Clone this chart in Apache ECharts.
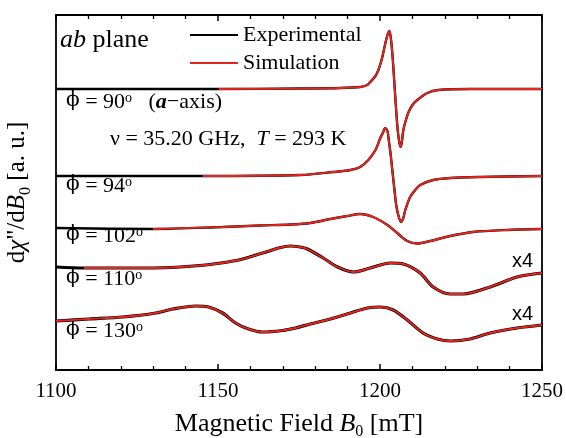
<!DOCTYPE html>
<html>
<head>
<meta charset="utf-8">
<script src="https://cdn.jsdelivr.net/npm/echarts@6/dist/echarts.min.js"></script>
<style>html,body{margin:0;padding:0;background:#fff;}#c{width:566px;height:438px;}</style>
</head>
<body>
<div id="c"></div>
<script>
// ---- Data (magnetic field in mT, derivative signal in arbitrary units) ----
const traceLabels = ['90', '94', '102', '110', '130'];
const offsets = [281, 194, 142, 102, 49];           // vertical offset of each spectrum
const simStart = [1150.2, 1145.3, 1129.9, 1108.6, 1100]; // simulation drawn from this field on

const B90 = [1100, 1150.2, 1175.5, 1187.8, 1193.9, 1196.1, 1197.0, 1198.6, 1199.5, 1200.4, 1201.0, 1201.6, 1202.3, 1202.9, 1203.3, 1203.8, 1204.4, 1205.0, 1205.6, 1206.3, 1206.7, 1207.2, 1208.0, 1208.7, 1210.0, 1211.5, 1214.6, 1218.0, 1227.8, 1250];
const S90 = [0, 0, 0.5, 1, 2, 4, 7, 13, 19, 28, 36, 45, 54, 58, 52, 36, 8, -22, -45, -58, -54, -41, -31, -24, -16, -11, -4, -1, 0, 0];

const B94 = [1100, 1145.3, 1175.5, 1185.6, 1190.9, 1193.9, 1196.4, 1198.6, 1200.1, 1201.0, 1201.6, 1202.3, 1202.7, 1203.2, 1203.8, 1204.4, 1205.0, 1205.8, 1206.6, 1207.2, 1207.8, 1209.3, 1210.9, 1212.4, 1216.4, 1221.7, 1230.9, 1250];
const S94 = [0, 0, 1, 4, 6, 9, 16, 26, 38, 44, 48, 45, 36, 24, 6, -12, -29, -41, -46, -42, -34, -21, -14, -9, -4, -2, -1, 0];

const B102 = [1100, 1129.9, 1151.4, 1163.1, 1172.4, 1178.5, 1184.7, 1189.9, 1193.9, 1197.9, 1202.3, 1205.3, 1208.4, 1211.5, 1215.5, 1221.7, 1228.7, 1239.2, 1250];
const S102 = [0, -1, 1, 2.5, 3.5, 5, 9, 12, 14, 11, 3, -5, -13, -15.5, -13, -8, -4, -2, -1];

const B110 = [1100, 1108.6, 1120.0, 1129.9, 1146.2, 1156.4, 1163.8, 1169.3, 1172.4, 1176.1, 1177.6, 1182.5, 1186.9, 1191.8, 1197.0, 1203.2, 1207.2, 1212.4, 1216.4, 1221.7, 1225.7, 1234.0, 1242.3, 1250];
const S110 = [1, 0, 0, 0, 3, 8, 15, 20.5, 22, 20.5, 19, 10, 1, -4, 0, 5, 4, -5, -19, -26, -26, -19, -9, -5];

const B130 = [1100, 1110.2, 1120.6, 1130.8, 1136.0, 1143.1, 1147.1, 1151.4, 1155.4, 1159.4, 1163.8, 1169.9, 1173.9, 1178.5, 1184.7, 1190.9, 1196.1, 1200.1, 1204.1, 1208.4, 1213.3, 1217.7, 1221.7, 1227.8, 1234.0, 1242.3, 1250];
const S130 = [0, 2, 4, 8, 12, 15, 14, 8, -2, -8, -11, -9.5, -7, -3, 2, 8, 13, 14, 11, 1, -12, -18, -20, -18, -12, -7, -4];

const xTicks = [1100, 1150, 1200, 1250];
const scaleNotes = ['x4', 'x4'];

// ---- Build ----
const fields = [B90, B94, B102, B110, B130];
const signals = [S90, S94, S102, S110, S130];
const serif = '"Liberation Serif", "Times New Roman", serif';
const RED = '#e8231c';
const expWidths = [2.4, 2.4, 2.4, 3.2, 3.2];

const series = [];
fields.forEach((B, i) => {
  const pts = B.map((b, j) => [b, offsets[i] + signals[i][j]]);
  series.push({
    name: 'Experimental', type: 'line', data: pts, showSymbol: false, symbol: 'none',
    smooth: 0.3, color: '#000', lineStyle: { color: '#000', width: expWidths[i] }, z: 2, silent: true
  });
  series.push({
    name: 'Simulation', type: 'line', data: pts.filter(p => p[0] >= simStart[i]), showSymbol: false, symbol: 'none',
    smooth: 0.3, color: RED, lineStyle: { color: RED, width: 1.9 }, z: 3, silent: true
  });
});

const richBase = {
  n: { fontFamily: serif, fontSize: 22, color: '#000', lineHeight: 26, verticalAlign: 'top' },
  phi: { fontFamily: '"DejaVu Serif", serif', fontSize: 20, color: '#000', lineHeight: 26, verticalAlign: 'top' },
  i: { fontFamily: serif, fontSize: 22, color: '#000', lineHeight: 26, verticalAlign: 'top', fontStyle: 'italic' },
  bi: { fontFamily: serif, fontSize: 22, color: '#000', lineHeight: 26, verticalAlign: 'top', fontStyle: 'italic', fontWeight: 'bold' },
  sup: { fontFamily: serif, fontSize: 14, color: '#000', lineHeight: 14, verticalAlign: 'top', padding: [0, 0, 0, 0] },
  sub: { fontFamily: serif, fontSize: 16, color: '#000', lineHeight: 16, verticalAlign: 'top', padding: [13, 0, 0, 0] }
};
function scaled(r, size) {
  const o = {};
  for (const k in r) {
    o[k] = Object.assign({}, r[k]);
    if (k === 'n' || k === 'i' || k === 'bi') { o[k].fontSize = size; o[k].lineHeight = size + 4; }
  }
  return o;
}
function label(x, y, text, size) {
  return {
    type: 'text', x: x, y: y, silent: true,
    style: { text: text, rich: scaled(richBase, size || 22), align: 'left', verticalAlign: 'middle', fill: '#000' }
  };
}
const PHI = '{phi|ϕ}';
const graphics = [
  label(60, 42, '{i|ab}{n| plane}', 26),
  label(66, 104, PHI + '{n| = ' + traceLabels[0] + '}{sup|o}{n|   (}{bi|a}{n|−axis)}', 22),
  label(110, 141, '{n|ν = 35.20 GHz,  }{i|T}{n| = 293 K}', 22),
  label(66, 188, PHI + '{n| = ' + traceLabels[1] + '}{sup|o}', 22),
  label(66, 238, PHI + '{n| = ' + traceLabels[2] + '}{sup|o}', 22),
  label(66, 281, PHI + '{n| = ' + traceLabels[3] + '}{sup|o}', 22),
  label(66, 333, PHI + '{n| = ' + traceLabels[4] + '}{sup|o}', 22),
  { type: 'text', x: 512, y: 261, silent: true, style: { text: scaleNotes[0], font: '20px "Liberation Sans", Arial, sans-serif', fill: '#000', verticalAlign: 'middle' } },
  { type: 'text', x: 512, y: 314, silent: true, style: { text: scaleNotes[1], font: '20px "Liberation Sans", Arial, sans-serif', fill: '#000', verticalAlign: 'middle' } }
];

const axisLine = { show: true, onZero: false, lineStyle: { color: '#000', width: 1.8 } };
const chart = echarts.init(document.getElementById('c'), null, { renderer: 'canvas' });
chart.setOption({
  backgroundColor: '#fff',
  animation: false,
  grid: { left: 56, right: 24, top: 15, bottom: 68, containLabel: false, outerBoundsMode: 'none' },
  legend: {
    data: ['Experimental', 'Simulation'], orient: 'vertical', left: 185, top: 19,
    icon: 'rect', itemWidth: 48, itemHeight: 2, itemGap: 6,
    textStyle: { fontFamily: serif, fontSize: 22, color: '#000', lineHeight: 22 },
    selectedMode: false
  },
  xAxis: [
    {
      type: 'value', min: xTicks[0], max: xTicks[xTicks.length - 1], interval: 50, position: 'bottom',
      axisLine: axisLine,
      axisTick: { show: true, inside: true, length: 6, lineStyle: { color: '#000', width: 1.5 } },
      minorTick: { show: true, splitNumber: 5, length: 4, lineStyle: { color: '#000', width: 1.3 } },
      splitLine: { show: false },
      axisLabel: { show: true, margin: 11, fontFamily: serif, fontSize: 21, color: '#000',
        formatter: v => xTicks.includes(v) ? String(v) : '' },
      name: '{n|Magnetic Field }{i|B}{sub|0}{n| [mT]}', nameLocation: 'middle', nameGap: 41,
      nameTextStyle: { rich: scaled(richBase, 26) }
    },
    {
      type: 'value', min: xTicks[0], max: xTicks[xTicks.length - 1], interval: 50, position: 'top',
      axisLine: axisLine,
      axisTick: { show: true, inside: true, length: 6, lineStyle: { color: '#000', width: 1.5 } },
      minorTick: { show: true, splitNumber: 5, length: 4, lineStyle: { color: '#000', width: 1.3 } },
      splitLine: { show: false }, axisLabel: { show: false }
    }
  ],
  yAxis: [
    {
      type: 'value', min: 0, max: 355, position: 'left', axisLine: axisLine,
      axisTick: { show: false }, axisLabel: { show: false }, splitLine: { show: false },
      name: '{n|d}{i|χ}{n|"/d}{i|B}{sub|0}{n| [a. u.]}', nameLocation: 'middle', nameGap: 22, nameRotate: 90,
      nameTextStyle: { rich: scaled(richBase, 25) }
    },
    {
      type: 'value', min: 0, max: 355, position: 'right', axisLine: axisLine,
      axisTick: { show: false }, axisLabel: { show: false }, splitLine: { show: false }
    }
  ],
  series: series,
  graphic: graphics
});
</script>
</body>
</html>
